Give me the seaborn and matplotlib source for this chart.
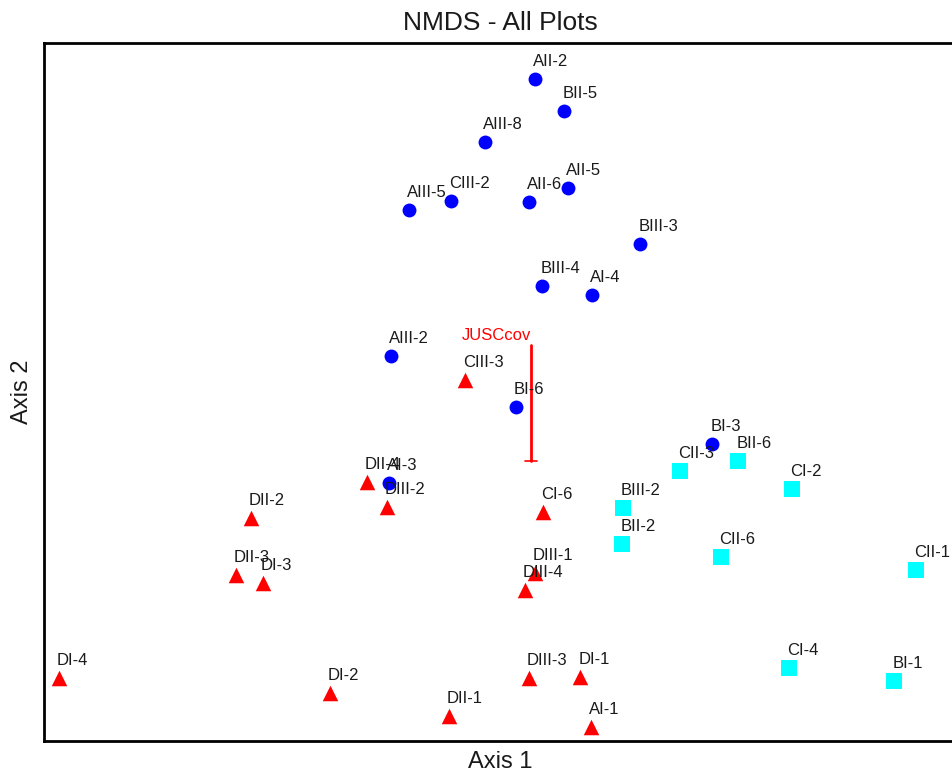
import matplotlib
matplotlib.use("Agg")
import matplotlib.pyplot as plt
import seaborn as sns
import pandas as pd

# NMDS scores
blue_labels = ["AII-2", "BII-5", "AIII-8", "AIII-5", "CIII-2", "AII-6", "AII-5", "BIII-3",
               "BIII-4", "AI-4", "AIII-2", "BI-6", "BI-3", "AI-3"]
blue_x = [0.010, 0.083, -0.115, -0.305, -0.200, -0.005, 0.093, 0.273,
          0.028, 0.153, -0.350, -0.038, 0.453, -0.355]
blue_y = [0.955, 0.875, 0.798, 0.628, 0.650, 0.648, 0.683, 0.543,
          0.438, 0.415, 0.263, 0.135, 0.043, -0.055]

red_labels = ["CIII-3", "DII-4", "DIII-2", "CI-6", "DII-2", "DII-3", "DI-3", "DIII-1",
              "DIII-4", "DI-4", "DI-2", "DIII-3", "DI-1", "DII-1", "AI-1"]
red_x = [-0.165, -0.410, -0.360, 0.030, -0.700, -0.738, -0.670, 0.010,
         -0.015, -1.180, -0.503, -0.005, 0.123, -0.205, 0.150]
red_y = [0.203, -0.053, -0.115, -0.128, -0.143, -0.285, -0.305, -0.280,
         -0.323, -0.543, -0.580, -0.543, -0.540, -0.638, -0.665]

cyan_labels = ["CII-3", "BII-6", "CI-2", "BIII-2", "BII-2", "CII-6", "CII-1", "CI-4", "BI-1"]
cyan_x = [0.373, 0.518, 0.653, 0.230, 0.228, 0.475, 0.963, 0.645, 0.908]
cyan_y = [-0.025, 0.000, -0.070, -0.118, -0.208, -0.240, -0.273, -0.518, -0.550]

groups = ["1", "2", "3"]
vector_name = "JUSCcov"
vector_end = (0.0, 0.29)

df = pd.DataFrame({
    "label": blue_labels + red_labels + cyan_labels,
    "x": blue_x + red_x + cyan_x,
    "y": blue_y + red_y + cyan_y,
    "group": [groups[0]] * len(blue_x) + [groups[1]] * len(red_x) + [groups[2]] * len(cyan_x),
})

sns.set_theme(style="white")
plt.rcParams["font.family"] = ["Liberation Sans", "DejaVu Sans"]

fig = plt.figure(figsize=(9.52, 7.77), dpi=100)
ax = fig.add_axes([44 / 952, 36 / 777, 912 / 952, 698 / 777])

palette = {"1": "#0000ff", "2": "#ff0000", "3": "#00ffff"}
markers = {"1": "o", "2": "^", "3": "s"}
sizes_pts = {"1": 100, "2": 125, "3": 125}
for g in groups:
    sub = df[df["group"] == g]
    sns.scatterplot(data=sub, x="x", y="y", color=palette[g], marker=markers[g],
                    s=sizes_pts[g], linewidth=0, ax=ax, legend=False, zorder=3)

for _, r in df.iterrows():
    ax.annotate(r["label"], (r["x"], r["y"]), xytext=(-2, 10), textcoords="offset pixels",
                ha="left", va="bottom", fontsize=12, color="#1a1a1a", zorder=4)

# joint-plot vector
ax.plot([0, vector_end[0]], [0, vector_end[1]], color="red", lw=2, zorder=2)
ax.plot([-0.015, 0.015], [0, 0], color="red", lw=1.2, zorder=2)
ax.annotate(vector_name, vector_end, xytext=(0, 2), textcoords="offset pixels",
            ha="right", va="bottom", fontsize=12, color="red", zorder=4)

ax.set_xlim(-1.2175, 1.0625)
ax.set_ylim(-0.70, 1.045)
ax.set_xticks([])
ax.set_yticks([])
for sp in ax.spines.values():
    sp.set_visible(True)
    sp.set_color("black")
    sp.set_linewidth(2)

ax.set_title("NMDS - All Plots", fontsize=19, pad=9, color="#1a1a1a")
ax.set_xlabel("Axis 1", fontsize=17, labelpad=7, color="#1a1a1a")
ax.set_ylabel("Axis 2", fontsize=17, labelpad=8, color="#1a1a1a")

fig.savefig("out.png", dpi=100, facecolor="white")
